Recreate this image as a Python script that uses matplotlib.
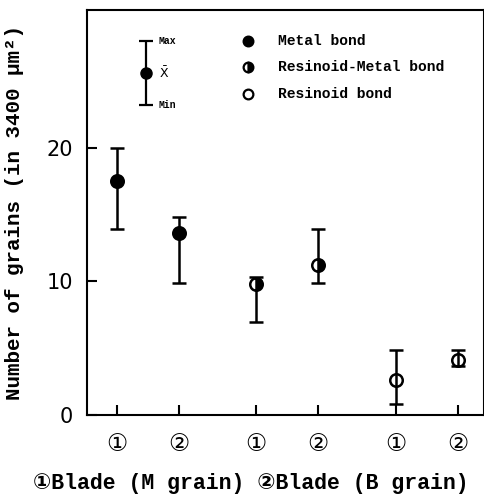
import numpy as np
import matplotlib.pyplot as plt

# x positions of the six blade groups (two per bond type)
xpos = [0, 1, 2.25, 3.25, 4.5, 5.5]
xlabels = ['①', '②', '①', '②', '①', '②']
mean = [17.5, 13.6, 9.8, 11.2, 2.6, 4.1]
vmax = [20.0, 14.85, 10.3, 13.9, 4.9, 4.9]
vmin = [13.9, 9.9, 7.0, 9.9, 0.8, 3.7]
fills = ['full', 'full', 'right', 'right', 'none', 'none']

# legend sample (mean / max / min)
key_x = 0.47
key_mean, key_max, key_min = 25.6, 28.0, 23.2

legend_names = ['Metal bond', 'Resinoid-Metal bond', 'Resinoid bond']
legend_fills = ['full', 'right', 'none']
legend_y = [28.0, 26.0, 24.0]

mono = ['Liberation Mono', 'DejaVu Sans Mono']
sym = ['DejaVu Sans', 'Noto Sans CJK JP']

fig = plt.figure(figsize=(4.85, 4.96), dpi=100)
ax = fig.add_axes([0.179, 0.163, 0.818, 0.817])

for i in range(len(xpos)):
    lo = mean[i] - vmin[i]
    hi = vmax[i] - mean[i]
    ax.errorbar(xpos[i], mean[i], yerr=[[lo], [hi]], fmt='o', color='black',
                ms=9, mew=1.8, capsize=5, capthick=1.8, elinewidth=1.8,
                fillstyle=fills[i], markerfacecoloralt='white', mfc='white' if fills[i] == 'none' else 'black')

# key for the bar meaning
ax.errorbar(key_x, key_mean, yerr=[[key_mean - key_min], [key_max - key_mean]],
            fmt='o', color='black', ms=8, capsize=5, capthick=1.6, elinewidth=1.6)
ax.text(key_x + 0.2, key_max, 'Max', fontsize=7, fontweight='bold', family=mono, va='center')
ax.text(key_x + 0.22, key_mean, r'$\bar{\mathrm{X}}$', fontsize=9, va='center')
ax.text(key_x + 0.2, key_min, 'Min', fontsize=7, fontweight='bold', family=mono, va='center')

for n, f, yy in zip(legend_names, legend_fills, legend_y):
    ax.plot(2.12, yy, 'o', color='black', ms=7, mew=1.6, fillstyle=f,
            markerfacecoloralt='white', mfc='white' if f == 'none' else 'black')
    ax.text(2.6, yy, n, fontsize=10.5, fontweight='bold', family=mono, va='center')

ax.set_xlim(-0.48, 5.92)
ax.set_ylim(0, 30.3)
ax.set_yticks([0, 10, 20])
ax.set_yticklabels(['0', '10', '20'], fontsize=15)
ax.set_xticks(xpos)
ax.set_xticklabels(xlabels, fontsize=17, family=sym)
ax.tick_params(direction='in', length=7, width=1.5, pad=10)
ax.tick_params(axis='x', pad=12)
for s in ax.spines.values():
    s.set_linewidth(1.5)

ax.set_ylabel('Number of grains (in 3400 μm²)', fontsize=15, fontweight='bold',
              family=mono)
ax.yaxis.set_label_coords(-0.159, 0.5)

fig.text(0.068, 0.014, '①Blade (M grain) ②Blade (B grain)', fontsize=15.5,
         fontweight='bold', family=mono + sym, va='baseline')

fig.savefig('out.png', dpi=100)
